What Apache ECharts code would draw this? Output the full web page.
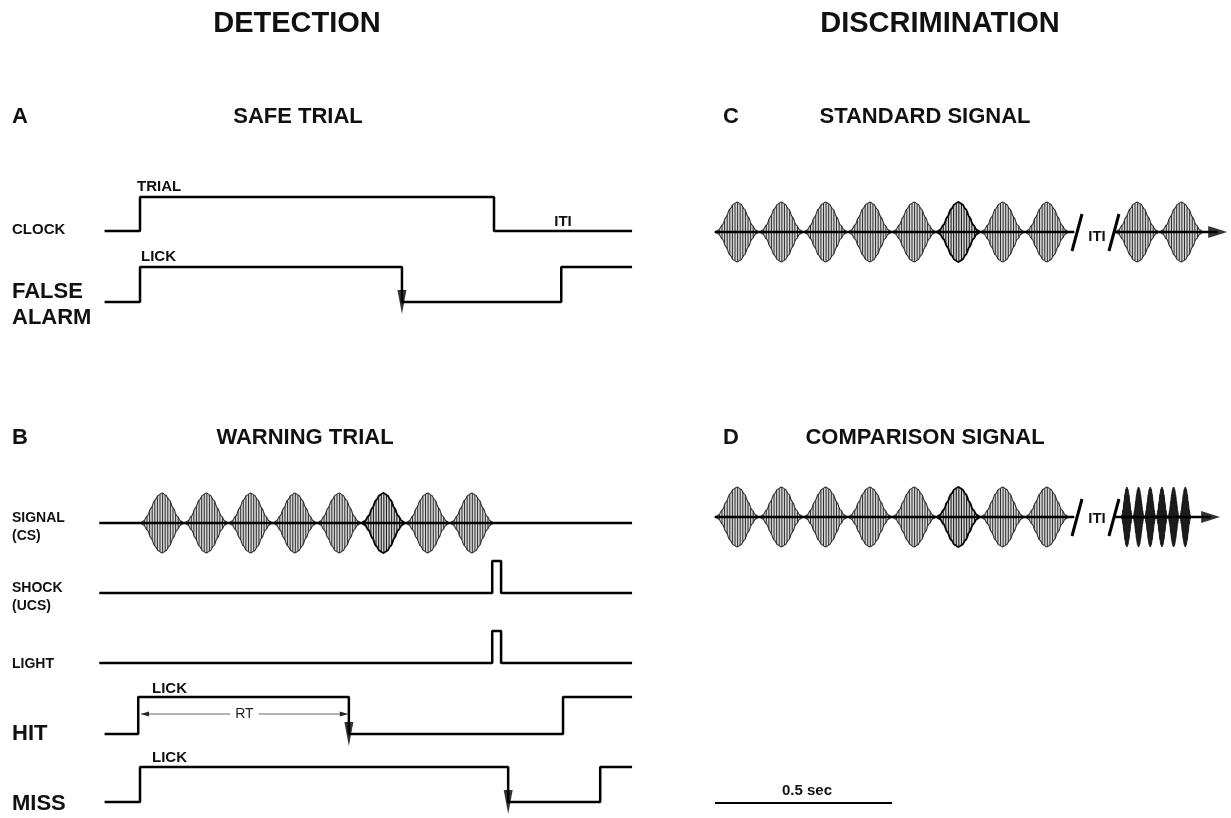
<!DOCTYPE html>
<html><head><meta charset="utf-8">
<script src="https://cdn.jsdelivr.net/npm/echarts@6/dist/echarts.min.js"></script>
<style>html,body{margin:0;padding:0;background:#fff}#c{width:1231px;height:818px}</style>
</head><body><div id="c"></div>
<script>
// ---------------- DATA (time in seconds, level 0 = low, 1 = high) ----------------
const clockSteps      = [[-0.1,0],[0,1],[1.0,0],[1.39,0]];
const falseAlarmSteps = [[-0.1,0],[0,1],[0.74,0],[1.19,1],[1.39,1]];
const shockSteps      = [[-0.115,0],[0.995,1],[1.02,0],[1.39,0]];
const lightSteps      = [[-0.115,0],[0.995,1],[1.02,0],[1.39,0]];
const hitSteps        = [[-0.1,0],[-0.005,1],[0.59,0],[1.195,1],[1.39,1]];
const missSteps       = [[-0.1,0],[0,1],[1.04,0],[1.3,1],[1.39,1]];
const lickEndFalseAlarm = 0.74;
const lickEndHit = 0.59;
const lickEndMiss = 1.04;
const reactionTime = [0, 0.59];
const signalSpan = [-0.115, 1.39];
const burstDur = 0.125;
const csBurstStarts = [0, 0.125, 0.25, 0.375, 0.5, 0.625, 0.75, 0.875];
const standardBurstStarts = [0, 0.125, 0.25, 0.375, 0.5, 0.625, 0.75, 0.875];
const standardAfterItiStarts = [1.13, 1.255];
const comparisonBurstStarts = [0, 0.125, 0.25, 0.375, 0.5, 0.625, 0.75, 0.875];
const fastBurstDur = 0.033;
const comparisonAfterItiStarts = [1.147, 1.180, 1.213, 1.246, 1.279, 1.312];
const envelopeProfile = [0, 0.07, 0.24, 0.5, 0.76, 0.93, 1, 0.93, 0.76, 0.5, 0.24, 0.07, 0];
const signalSegment1 = [0, 1.015];
const standardSegment2 = [1.127, 1.42];
const comparisonSegment2 = [1.127, 1.40];
const itiBreaks = [1.0226, 1.127];
const scaleBar = [0, 0.5];
const scaleBarLabel = '0.5 sec';

// ---------------- LAYOUT ----------------
const PXS = 354;              // pixels per second
const LEFT0 = 140, RIGHT0 = 715;
const LMIN = -0.12, LMAX = 1.40, RMIN = 0, RMAX = 1.45;
const FONT = '"Liberation Sans", Arial, Helvetica, sans-serif';
const base = {clock:231, fa:302, signal:523, shock:593, light:663, hit:734, miss:802, std:232, cmp:517, bar:803, rt:714};
const high = {clock:34, fa:35, shock:32, light:32, hit:37, miss:35};
const AMP = 30;

function envAt(u){
  const n = envelopeProfile.length - 1;
  const f = Math.max(0, Math.min(n, u * n));
  const i = Math.min(n - 1, Math.floor(f));
  const r = f - i;
  const c = (1 - Math.cos(r * Math.PI)) / 2;
  return envelopeProfile[i] * (1 - c) + envelopeProfile[i + 1] * c;
}

function stepSeries(grid, steps, b, h){
  return {type:'line', xAxisIndex:grid, yAxisIndex:grid, step:'end', symbol:'none', silent:true, z:5,
    data: steps.map(([t,l]) => [t, b - l*h]), lineStyle:{color:'#000', width:2.5}, animation:false};
}
function flatSeries(grid, span, b, w){
  return {type:'line', xAxisIndex:grid, yAxisIndex:grid, symbol:'none', silent:true, z:6,
    data: [[span[0], b],[span[1], b]], lineStyle:{color:'#000', width:w||2.5}, animation:false};
}
function burstSeries(grid, starts, dur, b, dark){
  return {type:'custom', xAxisIndex:grid, yAxisIndex:grid, silent:true, z:3, animation:false,
    data: starts.map(t => [t, b]),
    renderItem: function(params, api){
      const t0 = api.value(0);
      const p0 = api.coord([t0, b]), p1 = api.coord([t0 + dur, b]);
      const x0 = p0[0], w = p1[0] - p0[0], yb = p0[1];
      const N = 40, top = [], bot = [];
      for (let i = 0; i <= N; i++){
        const u = i / N, e = envAt(u) * AMP;
        top.push([x0 + u*w, yb - e]);
        bot.push([x0 + u*w, yb + e]);
      }
      const pts = top.concat(bot.reverse());
      const children = [];
      if (dark){
        children.push({type:'polygon', shape:{points:pts}, style:{fill:'#1c1c1c', stroke:'#111', lineWidth:1}});
      } else {
        const strong = params.dataIndex === 5;
        children.push({type:'polygon', shape:{points:pts}, style:{fill:'#d4d4d4', stroke: strong ? '#000' : '#333', lineWidth: strong ? 1.8 : 1.1}});
        for (let x = x0 + 1.8; x < x0 + w - 1; x += 2.6){
          const e = envAt((x - x0) / w) * AMP;
          if (e < 1) continue;
          children.push({type:'line', shape:{x1:x, y1:yb - e, x2:x, y2:yb + e},
            style:{stroke: strong ? '#111' : '#2e2e2e', lineWidth:1}});
        }
      }
      return {type:'group', children};
    }};
}
function slashSeries(grid, times, b){
  return {type:'custom', xAxisIndex:grid, yAxisIndex:grid, silent:true, z:7, animation:false,
    data: times.map(t => [t, b]),
    renderItem: function(params, api){
      const p = api.coord([api.value(0), b]);
      return {type:'line', shape:{x1:p[0]-5, y1:p[1]+19, x2:p[0]+5, y2:p[1]-18}, style:{stroke:'#000', lineWidth:3}};
    }};
}

const downArrows = [[lickEndFalseAlarm, base.fa],[lickEndHit, base.hit],[lickEndMiss, base.miss]];

const series = [
  stepSeries(0, clockSteps, base.clock, high.clock),
  stepSeries(0, falseAlarmSteps, base.fa, high.fa),
  stepSeries(0, shockSteps, base.shock, high.shock),
  stepSeries(0, lightSteps, base.light, high.light),
  stepSeries(0, hitSteps, base.hit, high.hit),
  stepSeries(0, missSteps, base.miss, high.miss),
  burstSeries(0, csBurstStarts, burstDur, base.signal, false),
  flatSeries(0, signalSpan, base.signal),
  {type:'scatter', xAxisIndex:0, yAxisIndex:0, silent:true, z:8, animation:false,
   symbol:'triangle', symbolSize:[9,24], symbolRotate:180, symbolOffset:[0,0],
   itemStyle:{color:'#000'}, data: downArrows},
  {type:'custom', xAxisIndex:0, yAxisIndex:0, silent:true, z:8, animation:false,
   data:[[reactionTime[0], reactionTime[1]]],
   renderItem: function(params, api){
     const a = api.coord([api.value(0), base.rt]), c = api.coord([api.value(1), base.rt]);
     const x0 = a[0] + 1, x1 = c[0] - 1, y = a[1];
     return {type:'group', children:[
       {type:'line', shape:{x1:x0, y1:y, x2:x1, y2:y}, style:{stroke:'#666', lineWidth:1}},
       {type:'polygon', shape:{points:[[x0,y],[x0+8,y-2.5],[x0+8,y+2.5]]}, style:{fill:'#222'}},
       {type:'polygon', shape:{points:[[x1,y],[x1-8,y-2.5],[x1-8,y+2.5]]}, style:{fill:'#222'}},
       {type:'text', style:{text:'RT', x:(x0+x1)/2, y:y, textAlign:'center', textVerticalAlign:'middle',
         font:'14px ' + FONT, fill:'#222', backgroundColor:'#fff', padding:[0,5]}}
     ]};
   }},
  // right panel
  burstSeries(1, standardBurstStarts, burstDur, base.std, false),
  burstSeries(1, standardAfterItiStarts, burstDur, base.std, false),
  flatSeries(1, signalSegment1, base.std),
  flatSeries(1, standardSegment2, base.std),
  burstSeries(1, comparisonBurstStarts, burstDur, base.cmp, false),
  burstSeries(1, comparisonAfterItiStarts, fastBurstDur, base.cmp, true),
  flatSeries(1, signalSegment1, base.cmp),
  flatSeries(1, comparisonSegment2, base.cmp),
  slashSeries(1, itiBreaks, base.std),
  slashSeries(1, itiBreaks, base.cmp),
  {type:'scatter', xAxisIndex:1, yAxisIndex:1, silent:true, z:9, animation:false,
   symbol:'triangle', symbolSize:[12,19], symbolRotate:-90, itemStyle:{color:'#000'},
   data:[[standardSegment2[1], base.std],[comparisonSegment2[1], base.cmp]]},
  flatSeries(1, scaleBar, base.bar, 2)
];

function txt(text, x, y, size, align, weight){
  return {type:'text', silent:true, style:{text, x, y, textAlign:align||'left', textVerticalAlign:'middle',
    font:(weight||'bold') + ' ' + size + 'px ' + FONT, fill:'#111'}};
}
const texts = [
  txt('DETECTION', 297, 24, 29, 'center'),
  txt('DISCRIMINATION', 940, 24, 29, 'center'),
  txt('A', 12, 117, 22), txt('SAFE TRIAL', 298, 117, 22, 'center'),
  txt('C', 723, 117, 22), txt('STANDARD SIGNAL', 925, 117, 22, 'center'),
  txt('B', 12, 438, 22), txt('WARNING TRIAL', 305, 438, 22, 'center'),
  txt('D', 723, 438, 22), txt('COMPARISON SIGNAL', 925, 438, 22, 'center'),
  txt('CLOCK', 12, 230, 15),
  txt('TRIAL', 137, 187, 15),
  txt('ITI', 563, 222, 15, 'center'),
  txt('LICK', 141, 257, 15),
  txt('FALSE', 12, 292, 22), txt('ALARM', 12, 318, 22),
  txt('SIGNAL', 12, 518, 14), txt('(CS)', 12, 536, 14),
  txt('SHOCK', 12, 588, 14), txt('(UCS)', 12, 606, 14),
  txt('LIGHT', 12, 664, 14),
  txt('LICK', 152, 689, 15), txt('HIT', 12, 734, 22),
  txt('LICK', 152, 758, 15), txt('MISS', 12, 804, 22),
  txt('ITI', 1097, 237, 15, 'center'), txt('ITI', 1097, 519, 15, 'center'),
  txt(scaleBarLabel, 807, 791, 15, 'center')
];

const option = {
  animation:false,
  backgroundColor:'#fff',
  grid:[
    {left: LEFT0 + LMIN*PXS, width:(LMAX-LMIN)*PXS, top:0, height:818},
    {left: RIGHT0 + RMIN*PXS, width:(RMAX-RMIN)*PXS, top:0, height:818}
  ],
  xAxis:[
    {type:'value', gridIndex:0, min:LMIN, max:LMAX, show:false},
    {type:'value', gridIndex:1, min:RMIN, max:RMAX, show:false}
  ],
  yAxis:[
    {type:'value', gridIndex:0, min:0, max:818, inverse:true, show:false},
    {type:'value', gridIndex:1, min:0, max:818, inverse:true, show:false}
  ],
  series,
  graphic: texts
};
const chart = echarts.init(document.getElementById('c'), null, {renderer:'canvas'});
chart.setOption(option);
</script></body></html>
